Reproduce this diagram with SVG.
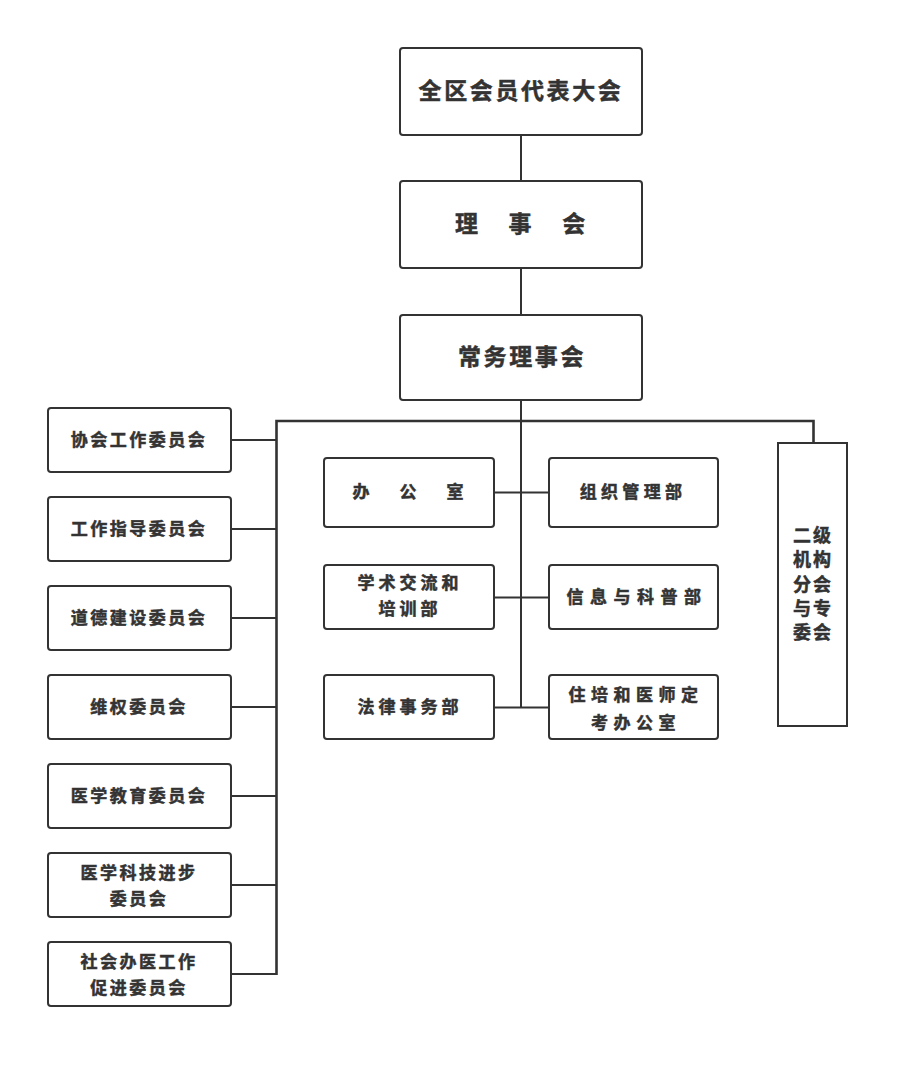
<svg xmlns="http://www.w3.org/2000/svg" width="924" height="1069" viewBox="0 0 924 1069">
<style>
.box{fill:#fff;stroke:#333;stroke-width:2}
.ln{stroke:#333;stroke-width:2;fill:none}
.bus{stroke:#333;stroke-width:2.6;fill:none}
text{font-family:"Noto Sans CJK SC","Noto Sans",sans-serif;font-weight:bold;fill:#333;stroke:#333;stroke-width:0.5px;text-anchor:middle}
.big{font-size:23px;letter-spacing:2.6px}
.sm{font-size:17px;letter-spacing:2.5px}
.v{font-size:18px;letter-spacing:2px}
</style>
<rect width="924" height="1069" fill="#fff"/>
<g id="connectors">
<line class="ln" x1="521" y1="135" x2="521" y2="181"/>
<line class="ln" x1="521" y1="268" x2="521" y2="315"/>
<line class="ln" x1="521" y1="400" x2="521" y2="707"/>
<polyline class="bus" points="276.5,975 276.5,421 813.5,421 813.5,443"/>
<line class="ln" x1="231" y1="440" x2="276" y2="440"/>
<line class="ln" x1="231" y1="529" x2="276" y2="529"/>
<line class="ln" x1="231" y1="618" x2="276" y2="618"/>
<line class="ln" x1="231" y1="707" x2="276" y2="707"/>
<line class="ln" x1="231" y1="796" x2="276" y2="796"/>
<line class="ln" x1="231" y1="885" x2="276" y2="885"/>
<line class="ln" x1="231" y1="974" x2="276" y2="974"/>
<line class="ln" x1="494" y1="492.5" x2="549" y2="492.5"/>
<line class="ln" x1="494" y1="597.5" x2="549" y2="597.5"/>
<line class="ln" x1="494" y1="707.5" x2="549" y2="707.5"/>
</g>
<g id="n1"><rect class="box" x="400" y="48" width="242" height="87" rx="3"/><text class="big" x="521" y="99">全区会员代表大会</text></g>
<g id="n2"><rect class="box" x="400" y="181" width="242" height="87" rx="3"/><text class="big" x="522" y="232" style="letter-spacing:3.8px">理　事　会</text></g>
<g id="n3"><rect class="box" x="400" y="315" width="242" height="85" rx="3"/><text class="big" x="522" y="365">常务理事会</text></g>

<g id="l1"><rect class="box" x="48" y="408" width="183" height="64" rx="3"/><text class="sm" x="139" y="446">协会工作委员会</text></g>
<g id="l2"><rect class="box" x="48" y="497" width="183" height="64" rx="3"/><text class="sm" x="139" y="535">工作指导委员会</text></g>
<g id="l3"><rect class="box" x="48" y="586" width="183" height="64" rx="3"/><text class="sm" x="139" y="624">道德建设委员会</text></g>
<g id="l4"><rect class="box" x="48" y="675" width="183" height="64" rx="3"/><text class="sm" x="139" y="713">维权委员会</text></g>
<g id="l5"><rect class="box" x="48" y="764" width="183" height="64" rx="3"/><text class="sm" x="139" y="802">医学教育委员会</text></g>
<g id="l6"><rect class="box" x="48" y="853" width="183" height="64" rx="3"/><text class="sm" x="139" y="879">医学科技进步</text><text class="sm" x="139" y="905">委员会</text></g>
<g id="l7"><rect class="box" x="48" y="942" width="183" height="64" rx="3"/><text class="sm" x="139" y="968">社会办医工作</text><text class="sm" x="139" y="994">促进委员会</text></g>

<g id="m1"><rect class="box" x="324" y="458" width="170" height="69" rx="3"/><text class="sm" x="423" y="498" style="letter-spacing:30px">办公室</text></g>
<g id="m2"><rect class="box" x="324" y="565" width="170" height="64" rx="3"/><text class="sm" x="410" y="589" style="letter-spacing:4px">学术交流和</text><text class="sm" x="410" y="615" style="letter-spacing:4px">培训部</text></g>
<g id="m3"><rect class="box" x="324" y="675" width="170" height="64" rx="3"/><text class="sm" x="410" y="713" style="letter-spacing:4px">法律事务部</text></g>
<g id="r1"><rect class="box" x="549" y="458" width="169" height="69" rx="3"/><text class="sm" x="633" y="498" style="letter-spacing:4.3px">组织管理部</text></g>
<g id="r2"><rect class="box" x="549" y="565" width="169" height="64" rx="3"/><text class="sm" x="637" y="603" style="letter-spacing:6.5px">信息与科普部</text></g>
<g id="r3"><rect class="box" x="549" y="675" width="169" height="64" rx="3"/><text class="sm" x="636" y="701" style="letter-spacing:5.5px">住培和医师定</text><text class="sm" x="636" y="729" style="letter-spacing:5.5px">考办公室</text></g>

<g id="side"><rect class="box" x="778" y="443" width="69" height="283"/>
<text class="v" x="813" y="542">二级</text>
<text class="v" x="813" y="566">机构</text>
<text class="v" x="813" y="591">分会</text>
<text class="v" x="813" y="615">与专</text>
<text class="v" x="813" y="639">委会</text>
</g>
</svg>
